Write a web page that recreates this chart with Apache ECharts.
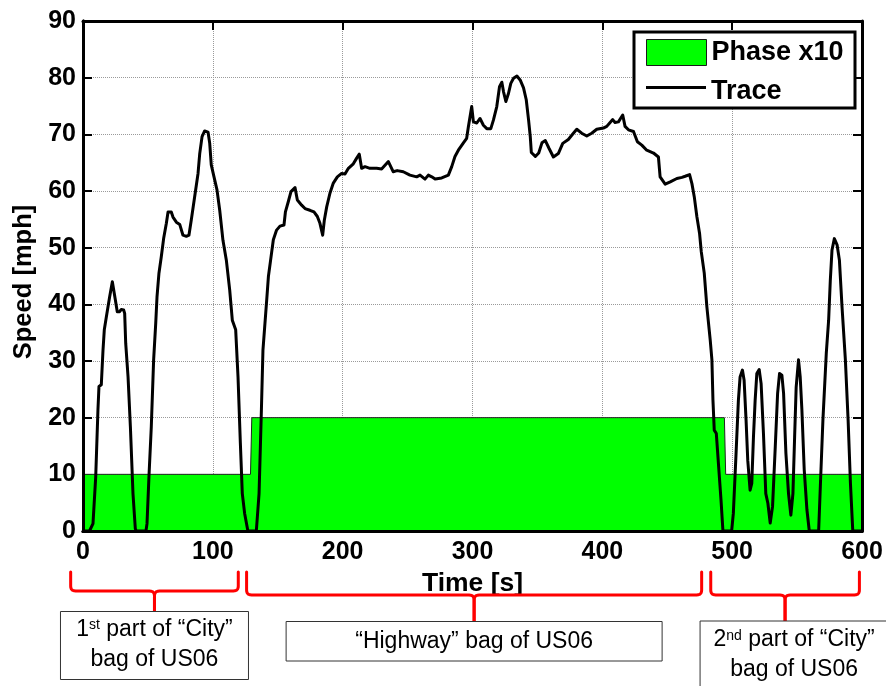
<!DOCTYPE html>
<html>
<head>
<meta charset="utf-8">
<title>US06 speed trace</title>
<script src="https://cdn.jsdelivr.net/npm/echarts@6/dist/echarts.min.js"></script>
<style>
  html, body { margin: 0; padding: 0; background: #ffffff; }
  #main { width: 886px; height: 686px; }
</style>
</head>
<body>
<div id="main"></div>
<script>
// US06 drive cycle: vehicle speed trace and bag phase indicator (phase number x10)

// Speed trace, time in seconds
const timeS = [
  0, 5, 7.7, 9.8, 11.5, 12.3, 14.1, 15.4, 16.4, 18, 20.5, 22.6, 23.9, 24.9, 26.4, 28.2, 29.5, 31.3, 32.1, 32.9,
  34.7, 36.5, 38.5, 40.3, 41, 48.5, 49.3, 50.8, 52.6, 54.4, 56, 57, 58.5, 60.3, 62.1, 64.2, 65.5, 68, 69.3, 71.9,
  74.5, 77, 79.6, 81.6, 83.4, 86, 88.6, 89.9, 91.7, 93.7, 96.3, 97.6, 98.8, 100.9, 103.2, 105.3, 107.8, 110.4, 113, 115,
  117.6, 119.4, 121.2, 122.7, 124.5, 127, 133.5, 135.6, 137.4, 138.6, 141.5, 142.8, 144.5, 146.6, 149.1, 151.7, 154.8, 155.9, 158.1, 160.2,
  163.3, 165.1, 168.4, 171, 174.8, 177.9, 180.5, 182.5, 184.6, 185.9, 187.7, 190.2, 192.8, 195.9, 199.2, 201.8, 204.4, 208.2, 210.8, 212.8,
  214.6, 217.2, 221, 226.2, 230, 235.2, 238.9, 242, 246.7, 251.8, 257, 259.6, 263.4, 266, 268.6, 271.2, 276.3, 281.4, 284, 286.5,
  289.1, 293, 295.5, 296.8, 298.1, 299.4, 300.7, 303.3, 305.8, 308.4, 311, 314.1, 316.1, 318.7, 320.8, 322.6, 323.9, 325.7, 327.7, 329.5,
  331.6, 334.2, 336.7, 339.3, 341.4, 343.2, 344.5, 345.3, 348.4, 351, 353.5, 356.1, 359, 362.3, 366.1, 369.5, 373.8, 377.7, 380.3, 384.1,
  388, 391.8, 395.7, 400.8, 403.4, 406, 408, 409.8, 412.4, 415.7, 417.5, 420.1, 424, 427, 430.4, 434.2, 439.4, 443.2, 444.5, 448.4,
  452.3, 457.4, 461.3, 463.8, 467.2, 469, 470.8, 472.8, 474.9, 476.2, 478.5, 480.5, 483.1, 484.4, 485.2, 486.2, 487.8, 489.6, 491.4, 492.9,
  499.6, 500.9, 503, 504.8, 506.1, 507.9, 509.2, 510.7, 512, 513.8, 515.1, 516.4, 517.7, 519, 520.8, 522.3, 524.1, 525.9, 527.5, 529.3,
  531.1, 533.2, 535, 536.5, 538.3, 539.6, 541.4, 543.4, 545.2, 546.8, 548.1, 549.3, 551.1, 552.4, 553.7, 555.5, 557.6, 559.4, 566.6, 567.9,
  569.9, 572.5, 574.3, 575.6, 576.9, 578.7, 580.8, 582.6, 584.6, 587.2, 589.3, 591.1, 592.9, 600
];

// Speed trace, mph
const speedMph = [
  0, 0, 1.3, 9.6, 21.3, 25.5, 25.8, 31.9, 35.5, 37.8, 41.3, 44.0, 43.7, 40.8, 38.7, 38.7, 39.1, 39.0, 38.4, 33.1,
  27.2, 18.4, 6.6, 0.4, 0, 0, 1.3, 9.6, 18.4, 30.2, 36.6, 41.3, 45.5, 48.4, 51.6, 54.3, 56.3, 56.3, 55.4, 54.5,
  54.1, 52.2, 52.0, 52.2, 54.9, 59.0, 63.1, 66.6, 69.6, 70.6, 70.4, 68.4, 64.6, 62.5, 60.2, 56.6, 51.3, 47.8, 42.5, 37.2,
  35.5, 27.2, 15.5, 6.6, 3.1, 0, 0, 6.6, 21.3, 31.9, 40.8, 44.9, 47.8, 51.4, 53.1, 53.8, 54.0, 56.3, 58.1, 59.9,
  60.6, 58.4, 57.5, 56.9, 56.6, 56.3, 55.5, 54.3, 52.2, 54.9, 57.2, 59.6, 61.4, 62.5, 63.1, 63.0, 64.0, 64.8, 65.8, 66.5,
  64.0, 64.3, 64.0, 64.0, 63.9, 65.2, 63.4, 63.6, 63.4, 62.8, 62.5, 62.8, 62.1, 62.8, 62.5, 62.1, 62.3, 62.8, 64.3, 66.1,
  67.2, 68.5, 69.3, 71.3, 73.1, 74.9, 72.2, 72.0, 72.8, 71.6, 71.0, 71.0, 72.5, 74.9, 78.4, 79.2, 77.5, 75.8, 77.2, 79.0,
  79.9, 80.3, 79.6, 78.2, 76.1, 72.5, 69.6, 66.8, 66.1, 66.7, 68.5, 68.9, 67.5, 66.0, 66.6, 68.4, 69.1, 70.2, 70.9, 70.2,
  69.7, 70.2, 70.9, 71.1, 71.4, 72.1, 72.6, 72.1, 72.2, 73.4, 71.4, 70.8, 70.5, 68.7, 68.1, 67.2, 66.7, 66.0, 62.5, 61.2,
  61.6, 62.2, 62.4, 62.6, 62.9, 61.3, 59.0, 55.5, 52.5, 49.3, 45.5, 39.6, 33.7, 30.2, 23.1, 17.8, 17.2, 11.3, 5.5, 0,
  0, 3.1, 13.7, 23.1, 27.2, 28.4, 26.6, 19.6, 12.5, 7.2, 8.4, 16.6, 23.1, 27.8, 28.5, 26.0, 17.2, 6.6, 4.9, 1.4,
  4.3, 14.9, 24.3, 27.8, 27.5, 24.3, 13.7, 6.6, 2.8, 6.6, 16.6, 25.4, 30.2, 27.2, 21.4, 10.8, 3.7, 0, 0, 7.8,
  19.6, 31.4, 37.2, 44.3, 49.6, 51.6, 50.5, 47.8, 39.6, 30.2, 19.6, 8.4, 0, 0
];

// Bag phase (1 = City, 2 = Highway) multiplied by 10
const phaseTimeS = [0, 129, 130, 494, 495, 600];
const phaseX10 = [10, 10, 20, 20, 10, 10];

// Axis ranges and tick steps
const timeRange = [0, 600];
const timeStep = 100;
const speedRange = [0, 90];
const speedStep = 10;
const speedTickMarks = [20, 30, 40, 50, 60, 70, 80];

// Bag annotations below the time axis: spans in seconds and captions
const bagSpansS = [[-9.5, 119.6], [126, 476.5], [483.5, 598]];
const bagCaptions = [
  '1{s|st} part of \u201cCity\u201d\nbag of US06',
  '\u201cHighway\u201d bag of US06',
  '2{s|nd} part of \u201cCity\u201d\nbag of US06'
];

const FONT = '"Liberation Sans", Arial, Helvetica, sans-serif';

const chart = echarts.init(document.getElementById('main'), null, { renderer: 'canvas' });

const tracePairs = timeS.map((t, i) => [t, speedMph[i]]);
const phasePairs = phaseTimeS.map((t, i) => [t, phaseX10[i]]);

const boldLabel = { fontFamily: FONT, fontWeight: 'bold', color: '#000' };

const option = {
  animation: false,
  backgroundColor: '#ffffff',
  grid: { left: 83, right: 24, top: 21, bottom: 155, containLabel: false },
  xAxis: [
    {
      type: 'value', position: 'bottom', min: timeRange[0], max: timeRange[1], interval: timeStep,
      axisLine: { show: true, onZero: false, lineStyle: { color: '#000', width: 3 } },
      axisTick: { show: false },
      axisLabel: Object.assign({ fontSize: 25, margin: 9 }, boldLabel),
      splitLine: { show: true, lineStyle: { color: '#9a9a9a', type: [1, 1], width: 1 } },
      name: 'Time [s]', nameLocation: 'middle', nameGap: 37,
      nameTextStyle: Object.assign({ fontSize: 26.5 }, boldLabel)
    },
    {
      type: 'value', position: 'top', min: timeRange[0], max: timeRange[1], interval: timeStep, z: 5,
      axisLine: { show: true, onZero: false, lineStyle: { color: '#000', width: 3 } },
      axisTick: { show: true, inside: true, length: 9, lineStyle: { color: '#000', width: 2 } },
      axisLabel: { show: false }, splitLine: { show: false }
    },
    {
      type: 'value', position: 'bottom', min: timeRange[0], max: timeRange[1], interval: timeStep, z: 5,
      axisLine: { show: true, onZero: false, lineStyle: { color: '#000', width: 3 } },
      axisTick: { show: false }, axisLabel: { show: false }, splitLine: { show: false }
    }
  ],
  yAxis: [
    {
      type: 'value', position: 'left', min: speedRange[0], max: speedRange[1], interval: speedStep,
      axisLine: { show: true, onZero: false, lineStyle: { color: '#000', width: 3 } },
      axisTick: { show: true, inside: true, length: 9, lineStyle: { color: '#000', width: 2 } },
      axisLabel: Object.assign({ fontSize: 25, margin: 7 }, boldLabel),
      splitLine: { show: true, lineStyle: { color: '#9a9a9a', type: [1, 1], width: 1 } },
      name: 'Speed [mph]', nameLocation: 'middle', nameGap: 45,
      nameTextStyle: Object.assign({ fontSize: 25.5, padding: [0, 12, 0, 0] }, boldLabel)
    },
    {
      type: 'value', position: 'right', min: speedRange[0], max: speedRange[1], interval: speedStep, z: 5,
      axisLine: { show: true, onZero: false, lineStyle: { color: '#000', width: 3 } },
      axisTick: { show: true, inside: true, length: 9, customValues: speedTickMarks, lineStyle: { color: '#000', width: 2 } },
      axisLabel: { show: false }, splitLine: { show: false }
    },
    {
      type: 'value', position: 'left', min: speedRange[0], max: speedRange[1], interval: speedStep, z: 5,
      axisLine: { show: true, onZero: false, lineStyle: { color: '#000', width: 3 } },
      axisTick: { show: false }, axisLabel: { show: false }, splitLine: { show: false }
    }
  ],
  legend: [
    {
      data: [{ name: 'Phase x10', icon: 'rect', itemStyle: { color: '#00ff00', borderColor: '#1a1a1a', borderWidth: 1 } }],
      left: 646, top: 39, padding: 0, itemWidth: 60, itemHeight: 26, selectedMode: false, z: 12,
      textStyle: Object.assign({ fontSize: 27 }, boldLabel)
    },
    {
      data: [{ name: 'Trace', icon: 'rect', itemStyle: { color: '#000' } }],
      left: 646, top: 78, padding: 0, itemWidth: 60, itemHeight: 3, selectedMode: false, z: 12,
      formatter: '{t|{name}}',
      textStyle: Object.assign({
        fontSize: 27,
        rich: { t: Object.assign({ fontSize: 27, padding: [8, 0, 0, 0] }, boldLabel) }
      }, boldLabel)
    }
  ],
  series: [
    {
      name: 'Phase x10', type: 'line', xAxisIndex: 0, yAxisIndex: 0, z: 2,
      data: phasePairs, symbol: 'none', showSymbol: false, silent: true,
      itemStyle: { color: '#00ff00' },
      lineStyle: { color: '#222', width: 1 },
      areaStyle: { color: '#00ff00', opacity: 1 }
    },
    {
      name: 'Trace', type: 'line', xAxisIndex: 0, yAxisIndex: 0, z: 4,
      data: tracePairs, symbol: 'none', showSymbol: false, silent: true, clip: false,
      itemStyle: { color: '#000' },
      lineStyle: { color: '#000', width: 3, join: 'round' }
    }
  ]
};

chart.setOption(option);

// Points along a quadratic Bezier segment, for the rounded corners of a brace
function quad(p0, c, p1, n) {
  const pts = [];
  for (let k = 1; k <= n; k++) {
    const s = k / n;
    const a = (1 - s) * (1 - s), b = 2 * (1 - s) * s, d = s * s;
    pts.push([a * p0[0] + b * c[0] + d * p1[0], a * p0[1] + b * c[1] + d * p1[1]]);
  }
  return pts;
}

// One half of a curly brace: from the outer end down, along, and down into the centre stem
function braceHalf(xEnd, xc, yTop, yMid, yTip, r) {
  const dir = xc > xEnd ? 1 : -1;
  let pts = [[xEnd, yTop], [xEnd, yMid - r]];
  pts = pts.concat(quad([xEnd, yMid - r], [xEnd, yMid], [xEnd + dir * r, yMid], 6));
  pts.push([xc - dir * r, yMid]);
  pts = pts.concat(quad([xc - dir * r, yMid], [xc, yMid], [xc, yMid + r], 6));
  pts.push([xc, yTip]);
  return pts;
}

// Vertical placement of braces and caption boxes under the time axis
const braceLayout = [
  { top: 572, mid: 591, tip: 611 },
  { top: 572, mid: 595, tip: 621 },
  { top: 572, mid: 595, tip: 621 }
];
const boxLayout = [
  { dx: -94, y: 611.5, w: 188, h: 68, textDy: 33 },
  { dx: -188, y: 621.5, w: 376, h: 39.5, textDy: 20 },
  { dx: -85, y: 621, w: 200, h: 80, textDy: 34, textDx: 94 }
];

const toX = v => chart.convertToPixel({ xAxisIndex: 0 }, v);

const graphics = [
  {
    type: 'rect', z: 10,
    shape: { x: 634, y: 32, width: 221, height: 76 },
    style: { fill: '#fff', stroke: '#000', lineWidth: 3 }
  }
];

bagSpansS.forEach((span, i) => {
  const x1 = toX(span[0]);
  const x2 = toX(span[1]);
  const xc = (x1 + x2) / 2;
  const b = braceLayout[i];
  const bx = boxLayout[i];
  [x1, x2].forEach(xEnd => {
    graphics.push({
      type: 'polyline', z: 10,
      shape: { points: braceHalf(xEnd, xc, b.top, b.mid, b.tip, 5) },
      style: { fill: null, stroke: '#ff0000', lineWidth: 3, lineCap: 'round', lineJoin: 'round' }
    });
  });
  graphics.push({
    type: 'rect', z: 10,
    shape: { x: xc + bx.dx, y: bx.y, width: bx.w, height: bx.h },
    style: { fill: '#fff', stroke: '#333', lineWidth: 1 }
  });
  graphics.push({
    type: 'text', z: 11,
    x: xc + bx.dx + (bx.textDx !== undefined ? bx.textDx : bx.w / 2),
    y: bx.y + bx.textDy,
    style: {
      text: bagCaptions[i],
      align: 'center', verticalAlign: 'middle',
      fontFamily: FONT, fontSize: 23, lineHeight: 30, fill: '#000',
      rich: { s: { fontSize: 14, height: 22, verticalAlign: 'top', fontFamily: FONT, fill: '#000' } }
    }
  });
});

chart.setOption({ graphic: graphics });
</script>
</body>
</html>
